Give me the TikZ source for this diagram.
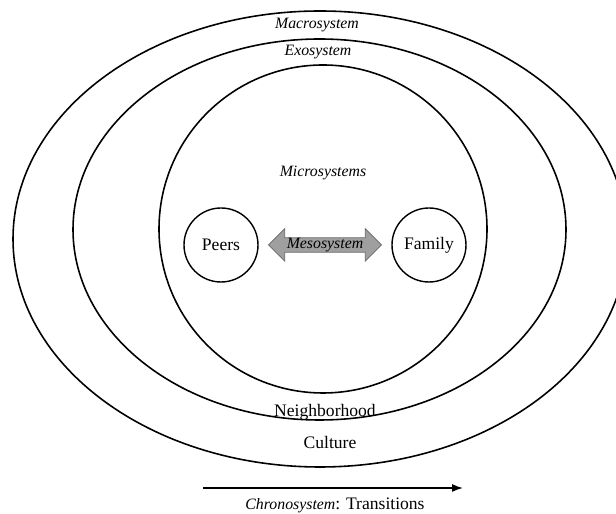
\documentclass[tikz,border=0pt]{standalone}
\usepackage{fontspec}
\setmainfont{Liberation Serif}
\usetikzlibrary{calc,shapes.arrows,arrows.meta}

\begin{document}
\begin{tikzpicture}[scale=1.0,
    ring/.style={line width=0.9pt},
    sysnode/.style={draw,circle,line width=0.8pt,minimum size=1.48cm,inner sep=0pt},
    syslabel/.style={font=\small\itshape}]
      \useasboundingbox (0,0) rectangle (12.32,10.28);
      \clip (0,0) rectangle (12.32,10.28);
      \begin{scope}[shift={(0,0)}]
        % nested systems
        \draw[ring](6.40,5.50) ellipse (6.14 and 4.56);
        \draw[ring](6.39,5.69) ellipse (4.93 and 3.81);
        \draw[ring](6.46,5.70) circle (3.28);
        \foreach \name/\x/\y/\txt in {
          macro/6.34/9.78/Macrosystem,
          exo/6.36/9.24/Exosystem,
          micro/6.46/6.82/Microsystems
          }{
            \node[syslabel] (\name) at (\x,\y) {\txt};
          }
        \node (hood) at (6.50,2.04) {Neighborhood};
        \node (culture) at (6.60,1.44) {Culture};
        % microsystems and the mesosystem between them
        \node[sysnode] (peers) at (4.42,5.38) {Peers};
        \node[sysnode] (family) at (8.58,5.38) {Family};
        \node[draw=gray!80!black,fill=gray!75,shape=double arrow,
          minimum height=2.26cm,minimum width=0.4cm,inner sep=0pt,
          double arrow head extend=0.18cm,syslabel]
          (meso) at ($(peers)!0.5!(family)$) {Mesosystem};
        % time
        \coordinate (t0) at (4.06,0.52);
        \coordinate (t1) at (9.26,0.52);
        \draw[line width=0.8pt,-{Latex[length=2.2mm,width=1.6mm]}](t0)--(t1);
        \node (chrono) at (6.70,0.18) {\textit{\small Chronosystem}: Transitions};
      \end{scope}
    \end{tikzpicture}
\end{document}
